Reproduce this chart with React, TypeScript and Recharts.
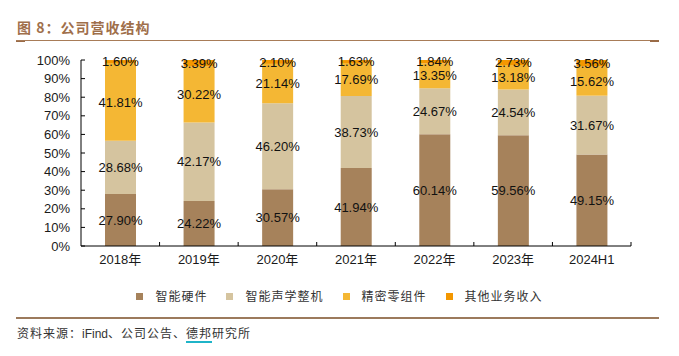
import React from 'react';
import { BarChart, Bar, XAxis, YAxis, LabelList, Legend } from 'recharts';

const categories = ['2018年', '2019年', '2020年', '2021年', '2022年', '2023年', '2024H1'];
const hardware = [27.9, 24.22, 30.57, 41.94, 60.14, 59.56, 49.15];
const acoustic = [28.68, 42.17, 46.2, 38.73, 24.67, 24.54, 31.67];
const precision = [41.81, 30.22, 21.14, 17.69, 13.35, 13.18, 15.62];
const other = [1.6, 3.39, 2.1, 1.63, 1.84, 2.73, 3.56];
const seriesNames = ['智能硬件', '智能声学整机', '精密零组件', '其他业务收入'];
const seriesColors = ['#A6825B', '#D5C49F', '#F4B734', '#F39700'];
const yTicks = [0, 10, 20, 30, 40, 50, 60, 70, 80, 90, 100];

const data = categories.map((name, i) => ({
  name,
  s0: hardware[i],
  s1: acoustic[i],
  s2: precision[i],
  s3: other[i],
}));

const LATIN = "Arial, 'Liberation Sans', 'Noto Sans CJK SC', sans-serif";
const CJK = "'Noto Sans CJK SC', sans-serif";

const XTick = (props: any) => {
  const { x, y, payload, width, visibleTicksCount } = props;
  const half = payload && typeof payload.offset === 'number' && payload.offset > 0
    ? payload.offset
    : width / visibleTicksCount / 2;
  const axisY = y - 8;
  const bx = x + half;
  return (
    <g>
      <line x1={bx} x2={bx} y1={axisY} y2={axisY - 4} stroke="#000" strokeWidth={1} />
      <text x={x} y={y + 10} textAnchor="middle" fill="#1a1a1a" fontSize={13} fontFamily={LATIN}>
        {payload.value}
      </text>
    </g>
  );
};

const renderLegend = (props: any) => {
  const items = [...(props.payload || [])].sort(
    (a: any, b: any) => seriesNames.indexOf(a.value) - seriesNames.indexOf(b.value)
  );
  return (
    <div style={{ display: 'flex', justifyContent: 'center', alignItems: 'center', height: 18 }}>
      {items.map((e: any, i: number) => (
        <span
          key={i}
          style={{ display: 'inline-flex', alignItems: 'center', marginRight: i < items.length - 1 ? 19 : 0 }}
        >
          <span style={{ display: 'inline-block', width: 7, height: 7, background: e.color, marginRight: 12 }} />
          <span style={{ fontFamily: CJK, fontSize: 12, letterSpacing: 1, color: '#333', lineHeight: '18px' }}>
            {e.value}
          </span>
        </span>
      ))}
    </div>
  );
};

const fmt = (v: any) => `${Number(v).toFixed(2)}%`;

export default function App() {
  const keys = ['s0', 's1', 's2', 's3'];
  return (
    <div style={{ position: 'fixed', left: 0, top: 0, width: 679, height: 356, background: '#fff', overflow: 'hidden' }}>
      <div
        style={{
          position: 'absolute', left: 17, top: 17, fontFamily: CJK, fontWeight: 700, fontSize: 14,
          letterSpacing: 1, color: '#9F6F4B', lineHeight: '20px', whiteSpace: 'nowrap',
        }}
      >
        图 8：公司营收结构
      </div>
      <div style={{ position: 'absolute', left: 16, top: 40, width: 643, height: 1, background: '#A87C58' }} />
      <div style={{ position: 'absolute', left: 16, top: 41, width: 9, height: 1, background: '#9A6B47' }} />
      <div style={{ position: 'absolute', left: 650, top: 40, width: 9, height: 2, background: '#9A6B47' }} />

      <div style={{ position: 'absolute', left: 0, top: 0 }}>
        <BarChart width={679} height={356} data={data} margin={{ top: 60, right: 48, left: 0, bottom: 80 }}>
          <XAxis
            dataKey="name"
            height={30}
            axisLine={{ stroke: '#000', strokeWidth: 1 }}
            tickLine={false}
            tickSize={0}
            tickMargin={8}
            interval={0}
            tick={<XTick />}
          />
          <YAxis
            width={81}
            domain={[0, 100]}
            ticks={yTicks}
            interval={0}
            tickFormatter={(v: number) => `${v}%`}
            axisLine={{ stroke: '#000', strokeWidth: 1 }}
            tickLine={{ stroke: '#000', strokeWidth: 1 }}
            tickSize={-4}
            tickMargin={15}
            tick={{ fill: '#1a1a1a', fontSize: 13, fontFamily: LATIN }}
          />
          <Legend
            verticalAlign="middle"
            layout="horizontal"
            content={renderLegend}
            wrapperStyle={{ position: 'absolute', top: 287, left: 0, width: 679, height: 18 }}
          />
          {keys.map((k, i) => (
            <Bar
              key={k}
              dataKey={k}
              name={seriesNames[i]}
              stackId="a"
              fill={seriesColors[i]}
              barSize={31}
              isAnimationActive={false}
            >
              <LabelList
                dataKey={k}
                position="center"
                formatter={fmt}
                fill="#111"
                fontSize={13}
                fontFamily={LATIN}
              />
            </Bar>
          ))}
        </BarChart>
      </div>

      <div style={{ position: 'absolute', left: 16, top: 317, width: 643, height: 2, background: '#9C7A5C' }} />
      <div
        style={{
          position: 'absolute', left: 17, top: 324, fontFamily: CJK, fontSize: 12, color: '#333',
          lineHeight: '18px', letterSpacing: 1, whiteSpace: 'nowrap',
        }}
      >
        资料来源：<span style={{ fontFamily: LATIN, letterSpacing: 0 }}>iFind</span>、公司公告、
        <span style={{ borderBottom: '2px solid #1FB4C8' }}>德邦</span>研究所
      </div>
    </div>
  );
}
